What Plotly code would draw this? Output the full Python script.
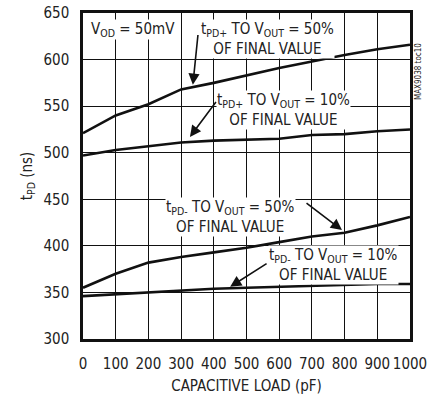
import plotly.graph_objects as go

cap_pf = [0, 100, 200, 300, 400, 500, 600, 700, 800, 900, 1000]
tpd_plus_50 = [521, 540, 552, 568, 575, 583, 591, 598, 605, 611, 616]
tpd_plus_10 = [497, 503, 507, 511, 513, 514, 515, 519, 520, 523, 525]
tpd_minus_50 = [355, 370, 382, 388, 393, 398, 404, 410, 414, 422, 431]
tpd_minus_10 = [346, 348, 350, 352, 354, 355, 356, 357, 358, 359, 359]

x_ticks = [0, 100, 200, 300, 400, 500, 600, 700, 800, 900, 1000]
y_ticks = [300, 350, 400, 450, 500, 550, 600, 650]

FONT = "DejaVu Sans Condensed, Liberation Sans, sans-serif"
TXT = "#222222"

fig = go.Figure()
for ys in [tpd_plus_50, tpd_plus_10, tpd_minus_50, tpd_minus_10]:
    fig.add_trace(go.Scatter(x=cap_pf, y=ys, mode="lines",
                             line=dict(color="#111111", width=2.6),
                             showlegend=False, hoverinfo="skip"))

labels = [
    ("V<sub>OD</sub> = 50mV", 153, 632),
    ("t<sub>PD+</sub> TO V<sub>OUT</sub> = 50%<br>OF FINAL VALUE", 563, 622),
    ("t<sub>PD+</sub> TO V<sub>OUT</sub> = 10%<br>OF FINAL VALUE", 612, 546),
    ("t<sub>PD-</sub> TO V<sub>OUT</sub> = 50%<br>OF FINAL VALUE", 450, 431),
    ("t<sub>PD-</sub> TO V<sub>OUT</sub> = 10%<br>OF FINAL VALUE", 765, 379),
]
annotations = []
for t, x, y in labels:
    annotations.append(dict(x=x, y=y, xref="x", yref="y", text=t, showarrow=False,
                            font=dict(family=FONT, size=15, color=TXT),
                            bgcolor="white", borderpad=0))

arrows = [
    (352, 628, 336, 573),
    (410, 556, 327, 517),
    (679, 447, 792, 417),
    (566, 382, 450, 356),
]
for ax, ay, x, y in arrows:
    annotations.append(dict(x=x, y=y, ax=ax, ay=ay, xref="x", yref="y",
                            axref="x", ayref="y", text="", showarrow=True,
                            arrowhead=2, arrowsize=1.4, arrowwidth=1.6,
                            arrowcolor="#111111"))

annotations.append(dict(x=1.046, y=0.914, xref="paper", yref="paper",
                        text="MAX9038 toc10", textangle=-90, showarrow=False,
                        font=dict(family=FONT, size=8, color=TXT)))

fig.update_layout(
    width=438, height=402,
    margin=dict(l=83, r=28, t=13, b=63),
    paper_bgcolor="white", plot_bgcolor="white",
    font=dict(family=FONT, size=15, color=TXT),
    annotations=annotations,
    xaxis=dict(range=[0, 1000], tickvals=x_ticks, ticks="outside", ticklen=9,
               tickcolor="rgba(0,0,0,0)", showgrid=True,
               gridcolor="#111111", gridwidth=1, showline=True, linecolor="#111111",
               linewidth=2.5, mirror=True, zeroline=False, automargin=False,
               title=dict(text="CAPACITIVE LOAD (pF)", standoff=9,
                          font=dict(family=FONT, size=15, color=TXT)),
               tickfont=dict(family=FONT, size=15, color=TXT)),
    yaxis=dict(range=[300, 650], tickvals=y_ticks, ticks="outside", ticklen=8,
               tickcolor="rgba(0,0,0,0)", showgrid=True,
               gridcolor="#111111", gridwidth=1, showline=True, linecolor="#111111",
               linewidth=2.5, mirror=True, zeroline=False, automargin=False,
               title=dict(text="t<sub>PD</sub> (ns)", standoff=8,
                          font=dict(family=FONT, size=15, color=TXT)),
               tickfont=dict(family=FONT, size=15, color=TXT)),
)

fig.write_html("out.html", config={"displayModeBar": False},
               post_script="document.body.style.margin='0';")
